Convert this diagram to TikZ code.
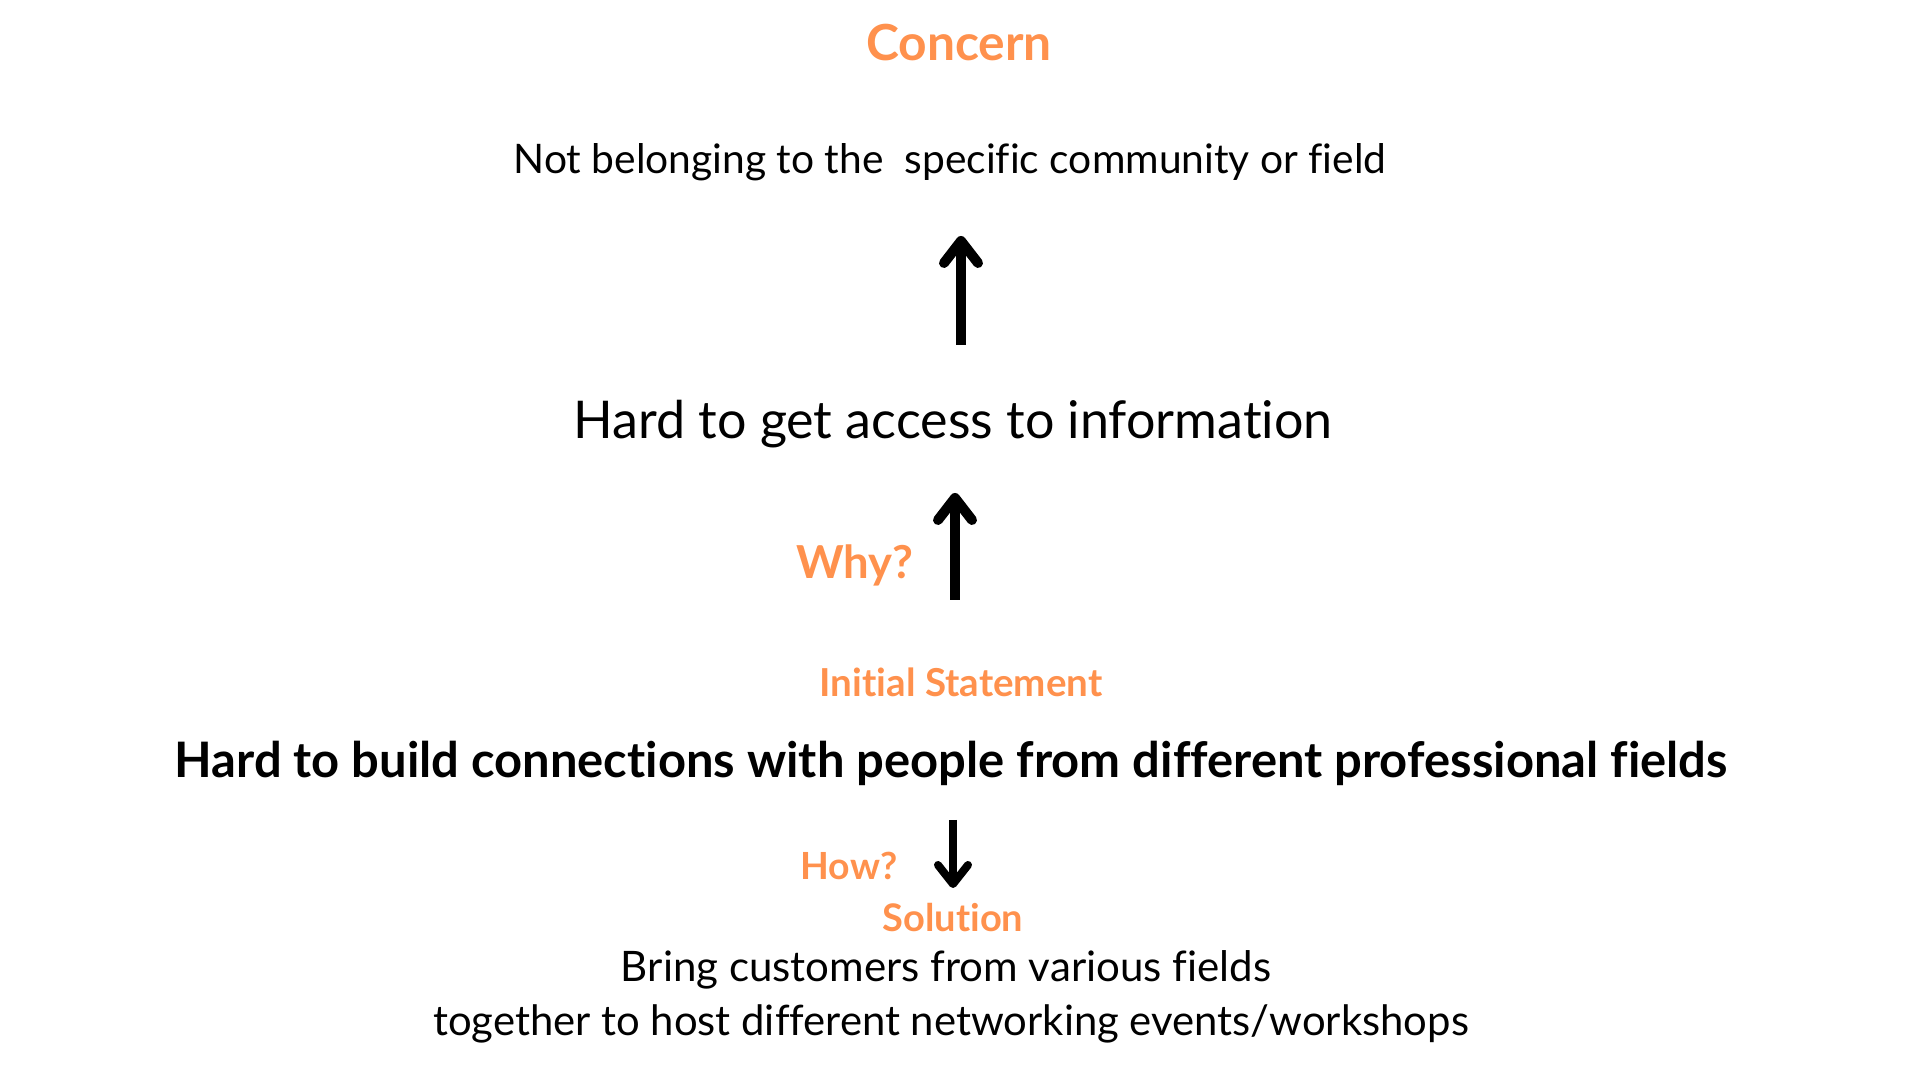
\documentclass[tikz,border=0pt]{standalone}
\usepackage{fontspec}
\setmainfont{Lato}[Ligatures=NoCommon]
\usetikzlibrary{arrows.meta}
\definecolor{accent}{HTML}{FF914D}
\makeatletter
\newcommand{\pxsize}[1]{\fontsize{\strip@pt\dimexpr #1pt*2845/10000\relax}{\strip@pt\dimexpr #1pt*3400/10000\relax}\selectfont}
\makeatother
\tikzset{
  lbl/.style={inner sep=0pt, anchor=center},
  orange/.style={lbl, text=accent, font=\bfseries},
  plain/.style={lbl, text=black},
  bigarrow/.style={line width=0.1cm, -{Straight Barb[length=0.22cm, width=0.34cm, round]}},
  smallarrow/.style={line width=0.08cm, -{Straight Barb[length=0.19cm, width=0.3cm, round]}}
}
\begin{document}
\begin{tikzpicture}[x=0.01cm, y=-0.01cm]
\useasboundingbox (0,0) rectangle (1920,1080);
\node[orange, font=\bfseries\pxsize{49.7}] (concern) at (959,43) {Concern};
\node[plain, font=\pxsize{40.7}] (belong) at (950,162) {Not belonging to the\ \ specific community or field};
\node[plain, font=\pxsize{52}] (access) at (953,424) {Hard to get access to information};
\node[orange, font=\bfseries\pxsize{45.4}] (why) at (855,565) {Why?};
\node[orange, font=\bfseries\pxsize{38.5}] (initial) at (961,682) {Initial Statement};
\node[plain, font=\bfseries\pxsize{48.9}] (build) at (951,763) {Hard to build connections with people from different professional fields};
\node[orange, font=\bfseries\pxsize{37.4}] (how) at (849,866) {How?};
\node[orange, font=\bfseries\pxsize{38}] (solution) at (953,918) {Solution};
\node[plain, font=\pxsize{42}] (bring) at (946,970) {Bring customers from various fields};
\node[plain, font=\pxsize{41.8}] (together) at (951,1024) {together to host different networking events/workshops};
\coordinate (a1s) at (961,345);
\coordinate (a1e) at (961,236);
\coordinate (a2s) at (955,600);
\coordinate (a2e) at (955,493);
\coordinate (a3s) at (953,820);
\coordinate (a3e) at (953,888);
\draw[bigarrow] (a1s) -- (a1e);
\draw[bigarrow] (a2s) -- (a2e);
\draw[smallarrow] (a3s) -- (a3e);
\end{tikzpicture}
\end{document}
